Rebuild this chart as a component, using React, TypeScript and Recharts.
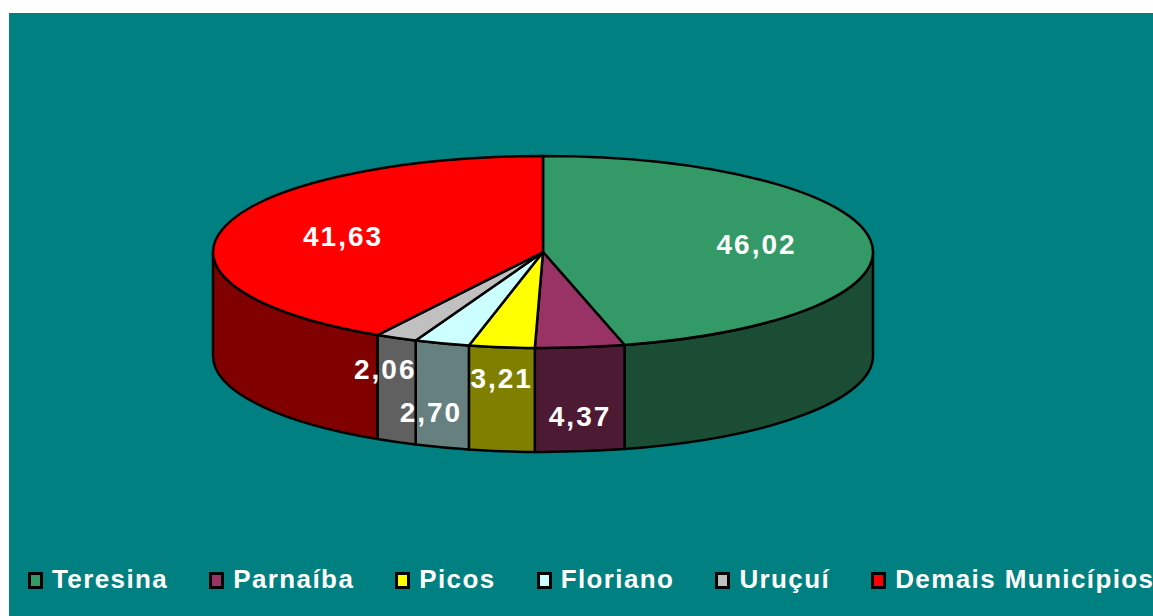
import { Legend, Pie, PieChart } from "recharts";

const municipios = ["Teresina", "Parnaíba", "Picos", "Floriano", "Uruçuí", "Demais Municípios"];
const participacao = [46.02, 4.37, 3.21, 2.7, 2.06, 41.63];
const rotulos = ["46,02", "4,37", "3,21", "2,70", "2,06", "41,63"];
const coresTopo = ["#339966", "#993366", "#FFFF00", "#CCFFFF", "#C0C0C0", "#FF0000"];
const coresLateral = ["#1A4D33", "#4D1A33", "#808000", "#668080", "#606060", "#800000"];

const data = municipios.map((name, i) => ({ name, value: participacao[i] }));

// disc tilt (vertical / horizontal radius) and wall height
const TILT = 0.291;
const DEPTH = 104;
const FONT = '"Liberation Sans", Arial, sans-serif';
const rad = Math.PI / 180;

function ponto(cx: number, cy: number, r: number, a: number) {
  return [cx + r * Math.cos(a * rad), cy - r * TILT * Math.sin(a * rad)];
}

function Parede(props: any) {
  const { cx, cy, outerRadius, startAngle, endAngle, index } = props;
  // only the front half of the side wall is visible
  const hi = Math.min(startAngle, 0);
  const lo = Math.max(endAngle, -180);
  if (hi - lo <= 0) return null;
  const [x1, y1] = ponto(cx, cy, outerRadius, hi);
  const [x2, y2] = ponto(cx, cy, outerRadius, lo);
  const rx = outerRadius;
  const ry = outerRadius * TILT;
  const large = hi - lo > 180 ? 1 : 0;
  const d = `M${x1},${y1} A${rx},${ry} 0 ${large} 1 ${x2},${y2} L${x2},${y2 + DEPTH} A${rx},${ry} 0 ${large} 0 ${x1},${y1 + DEPTH} Z`;
  return <path d={d} fill={coresLateral[index]} stroke="#000" strokeWidth={2.5} strokeLinejoin="round" />;
}

function Topo(props: any) {
  const { cx, cy, outerRadius, startAngle, endAngle, index } = props;
  const [x1, y1] = ponto(cx, cy, outerRadius, startAngle);
  const [x2, y2] = ponto(cx, cy, outerRadius, endAngle);
  const large = startAngle - endAngle > 180 ? 1 : 0;
  const d = `M${cx},${cy} L${x1},${y1} A${outerRadius},${outerRadius * TILT} 0 ${large} 1 ${x2},${y2} Z`;
  return <path d={d} fill={coresTopo[index]} stroke="#000" strokeWidth={2.5} strokeLinejoin="round" />;
}

function Valor(props: any) {
  const { cx, cy, outerRadius, startAngle, endAngle, index, percent } = props;
  const mid = (startAngle + endAngle) / 2;
  let x: number;
  let y: number;
  if (percent > 0.1) {
    [x, y] = ponto(cx, cy, outerRadius * 0.64, mid);
    x += 4;
  } else {
    // small slices: label sits on the side wall, staggered
    [x, y] = ponto(cx, cy, outerRadius, mid);
    y += index % 2 === 1 ? DEPTH * 0.66 : DEPTH * 0.3;
    if (mid < -100) x -= 11;
  }
  return (
    <text
      x={x}
      y={y}
      fill="#fff"
      textAnchor="middle"
      dominantBaseline="central"
      fontFamily={FONT}
      fontWeight="bold"
      fontSize={28}
      letterSpacing={2}
    >
      {rotulos[index]}
    </text>
  );
}

function Legenda() {
  return (
    <div style={{ display: "flex", alignItems: "flex-start", height: 26 }}>
      {municipios.map((nome, i) => (
        <div key={nome} style={{ display: "flex", alignItems: "flex-start", marginRight: 41 }}>
          <span
            style={{
              boxSizing: "border-box",
              width: 15,
              height: 17,
              marginTop: 6,
              marginRight: 9,
              border: "3px solid #000",
              background: coresTopo[i],
            }}
          />
          <span
            style={{
              fontFamily: FONT,
              fontWeight: "bold",
              fontSize: 26,
              lineHeight: "26px",
              letterSpacing: 1.4,
              color: "#fff",
              whiteSpace: "nowrap",
            }}
          >
            {nome}
          </span>
        </div>
      ))}
    </div>
  );
}

export default function App() {
  const pieProps = {
    data,
    dataKey: "value",
    nameKey: "name",
    cx: 534,
    cy: 239,
    outerRadius: 330,
    startAngle: 90,
    endAngle: -270,
    fill: "transparent",
    stroke: "none",
    labelLine: false,
    isAnimationActive: false,
  };
  return (
    <div style={{ position: "fixed", left: 9, top: 13, width: 1144, height: 603, background: "#008080", overflow: "hidden" }}>
      <PieChart width={1144} height={603} margin={{ top: 0, right: 0, bottom: 0, left: 0 }}>
        <Pie {...pieProps} label={Parede} />
        <Pie {...pieProps} label={Topo} legendType="none" />
        <Pie {...pieProps} label={Valor} legendType="none" />
        <Legend
          verticalAlign="bottom"
          align="left"
          content={() => <Legenda />}
          wrapperStyle={{ top: 553, bottom: "auto", left: 19, width: 1200 }}
        />
      </PieChart>
    </div>
  );
}
